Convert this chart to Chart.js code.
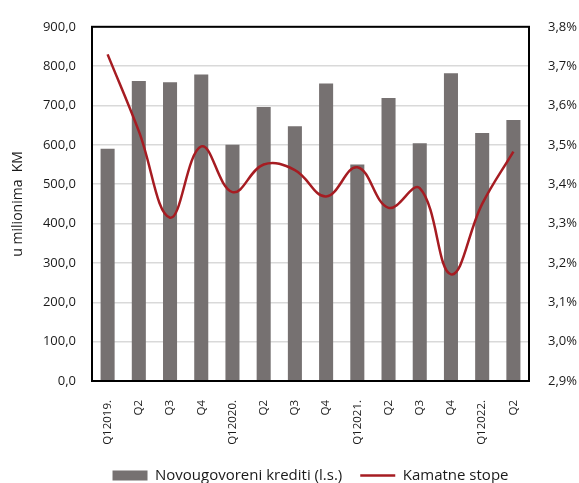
<!DOCTYPE html>
<html>
<head>
<meta charset="utf-8">
<script src="https://cdn.jsdelivr.net/npm/chart.js@4"></script>
<style>
  html, body { margin: 0; padding: 0; background: #fff; }
  #wrap { width: 579px; height: 483px; }
</style>
</head>
<body>
<div id="wrap"><canvas id="kreditiChart" width="579" height="483"></canvas></div>
<script>
const quarters = ['Q12019.', 'Q2', 'Q3', 'Q4', 'Q12020.', 'Q2', 'Q3', 'Q4', 'Q12021.', 'Q2', 'Q3', 'Q4', 'Q12022.', 'Q2'];
const noviKrediti = [590, 762, 759, 779, 600, 696, 647, 756, 550, 719, 604, 782, 630, 663];
const kamatneStope = [3.73, 3.535, 3.315, 3.496, 3.38, 3.45, 3.436, 3.369, 3.443, 3.34, 3.39, 3.171, 3.35, 3.483];

const fmt = (v, d) => v.toFixed(d).replace('.', ',');

// okvir oko plot area
const frame = {
  id: 'frame',
  afterDatasetsDraw(chart) {
    const a = chart.chartArea, ctx = chart.ctx;
    ctx.save();
    ctx.strokeStyle = '#000';
    ctx.lineWidth = 2;
    ctx.strokeRect(a.left, a.top, a.right - a.left, a.bottom - a.top);
    ctx.restore();
  }
};

Chart.defaults.font.family = '"Open Sans", sans-serif';
Chart.defaults.color = '#1a1a1a';

const ctx = document.getElementById('kreditiChart').getContext('2d');
new Chart(ctx, {
  data: {
    labels: quarters,
    datasets: [{
      type: 'line',
      label: 'Kamatne stope',
      data: kamatneStope,
      yAxisID: 'y1',
      borderColor: '#a61c22',
      backgroundColor: '#a61c22',
      borderWidth: 2.5,
      pointRadius: 0,
      tension: 0.4,
      order: 0
    }, {
      type: 'bar',
      label: 'Novougovoreni krediti (l.s.)',
      data: noviKrediti,
      yAxisID: 'y',
      backgroundColor: '#767171',
      categoryPercentage: 1,
      barPercentage: 0.45,
      order: 1
    }]
  },
  plugins: [frame],
  options: {
    responsive: false,
    animation: false,
    layout: { padding: { top: 6, left: 0, right: 0, bottom: -10 } },
    plugins: {
      tooltip: { enabled: false },
      legend: {
        position: 'bottom',
        fullSize: false,
        reverse: true,
        labels: {
          usePointStyle: true,
          pointStyleWidth: 35,
          boxHeight: 10,
          padding: 18,
          font: { size: 15 },
          color: '#1a1a1a',
          generateLabels(chart) {
            const items = Chart.defaults.plugins.legend.labels.generateLabels(chart);
            items.forEach(it => {
              const ds = chart.data.datasets[it.datasetIndex];
              if (ds.type === 'line') {
                it.pointStyle = 'line';
                it.strokeStyle = ds.borderColor;
                it.lineWidth = 2.5;
              } else {
                it.pointStyle = 'rect';
                it.lineWidth = 0;
              }
            });
            return items;
          }
        }
      }
    },
    scales: {
      x: {
        offset: true,
        grid: { display: false },
        border: { color: '#000', width: 2 },
        ticks: { minRotation: 90, maxRotation: 90, autoSkip: false, font: { size: 11.5 }, padding: 11 },
        afterFit(scale) { scale.height = 69; }
      },
      y: {
        position: 'left',
        min: 0, max: 900,
        ticks: { stepSize: 100, font: { size: 13 }, padding: 16, callback: v => fmt(v, 1) },
        grid: { color: '#d9d9d9', lineWidth: 1.5, drawTicks: false },
        border: { color: '#000', width: 2 },
        title: { display: true, text: 'u milionima  KM', font: { size: 14 }, padding: { top: 10, bottom: 0 } },
        afterFit(scale) { scale.width = 92; }
      },
      y1: {
        position: 'right',
        min: 2.9, max: 3.8,
        ticks: { stepSize: 0.1, font: { size: 13 }, padding: 19, callback: v => fmt(v, 1) + '%' },
        grid: { display: false, drawTicks: false },
        border: { color: '#000', width: 2 },
        afterFit(scale) { scale.width = 50; }
      }
    }
  }
});
</script>
</body>
</html>
